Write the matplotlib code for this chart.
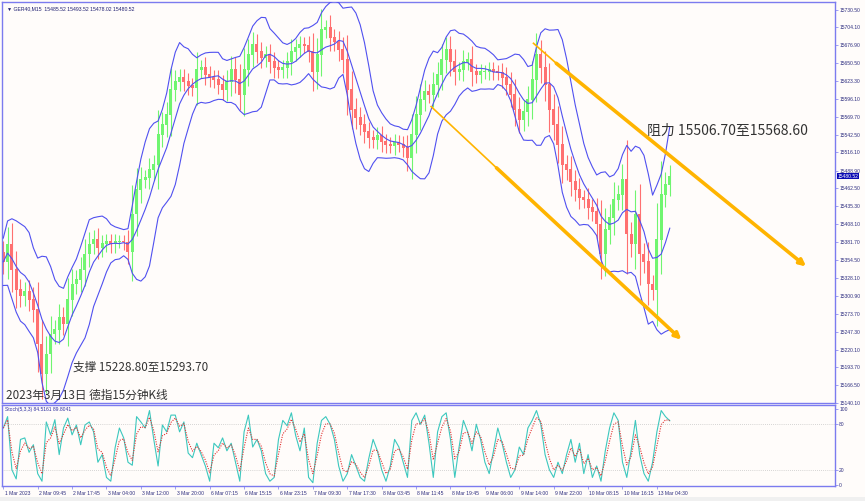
import numpy as np
import pandas as pd
import matplotlib
matplotlib.use('Agg')
import matplotlib.pyplot as plt

plt.rcParams['font.family'] = ['Noto Sans CJK SC', 'DejaVu Sans']

# hourly closes of GER40 (1 Mar - 13 Mar 2023)
closes = [15352, 15378, 15340, 15310, 15300, 15307, 15295, 15280, 15228, 15183,
          15213, 15243, 15250, 15268, 15258, 15295, 15318, 15325, 15340, 15363,
          15378, 15385, 15373, 15379, 15382, 15378, 15382, 15382, 15381, 15367,
          15423, 15460, 15475, 15478, 15490, 15498, 15543, 15558, 15573, 15610,
          15622, 15628, 15622, 15616, 15613, 15640, 15643, 15633, 15628, 15625,
          15618, 15610, 15622, 15640, 15625, 15603, 15640, 15663, 15678, 15667,
          15658, 15663, 15652, 15643, 15640, 15643, 15652, 15667, 15673, 15678,
          15676, 15667, 15637, 15663, 15700, 15703, 15688, 15682, 15670, 15655,
          15610, 15580, 15568, 15558, 15547, 15538, 15535, 15541, 15532, 15528,
          15526, 15531, 15528, 15523, 15508, 15543, 15573, 15595, 15607, 15603,
          15618, 15633, 15655, 15670, 15652, 15637, 15640, 15652, 15655, 15637,
          15633, 15637, 15637, 15640, 15637, 15636, 15628, 15618, 15603, 15580,
          15565, 15577, 15595, 15625, 15663, 15643, 15618, 15580, 15558, 15528,
          15498, 15490, 15472, 15460, 15448, 15445, 15433, 15427, 15408, 15363,
          15400, 15418, 15445, 15453, 15475, 15393, 15378, 15423, 15363, 15352,
          15318, 15310, 15385, 15453, 15468, 15480.52]
first_open = 15365

# stochastic %K main line, read at the same hourly steps
stoch_k = [75, 90, 20, 8, 60, 62, 43, 53, 15, 5,
           83, 66, 86, 40, 75, 88, 66, 79, 53, 79,
           83, 70, 30, 40, 10, 5, 49, 75, 62, 30,
           26, 90, 83, 75, 98, 60, 25, 79, 70, 92,
           92, 70, 83, 42, 36, 55, 40, 25, 5, 55,
           49, 62, 45, 55, 30, 5, 70, 92, 50, 60,
           45, 15, 5, 10, 60, 85, 78, 95, 65, 45,
           75, 10, 3, 55, 85, 90, 80, 60, 25, 5,
           15, 40, 25, 10, 5, 35, 60, 45, 20, 5,
           25, 60, 50, 30, 10, 85, 95, 80, 92, 55,
           10, 70, 90, 95, 60, 10, 50, 85, 70, 45,
           80, 60, 30, 15, 45, 75, 55, 30, 10, 20,
           50, 40, 75, 85, 98, 80, 40, 20, 10, 30,
           15, 40, 60, 30, 55, 15, 40, 10, 25, 5,
           45, 75, 95, 85, 30, 10, 45, 85, 40, 15,
           5, 30, 70, 98, 90, 84.5]

price_ticks = [15730.50, 15704.10, 15676.90, 15650.50, 15623.30, 15596.10, 15569.70,
               15542.50, 15516.10, 15488.90, 15462.50, 15435.30, 15408.10, 15381.70,
               15354.50, 15328.10, 15300.90, 15273.70, 15247.30, 15220.10, 15193.70,
               15166.50, 15140.10]
time_labels = ['1 Mar 2023', '2 Mar 09:45', '2 Mar 17:45', '3 Mar 04:00', '3 Mar 12:00',
               '3 Mar 20:00', '6 Mar 07:15', '6 Mar 15:15', '6 Mar 23:15', '7 Mar 09:30',
               '7 Mar 17:30', '8 Mar 03:45', '8 Mar 11:45', '8 Mar 19:45', '9 Mar 06:00',
               '9 Mar 14:00', '9 Mar 22:00', '10 Mar 08:15', '10 Mar 16:15', '13 Mar 04:30']
time_pos = [0, 8, 16, 24, 32, 40, 48, 56, 64, 72, 80, 88, 96, 104, 112, 120, 128, 136, 144, 152]

# trend lines (bar index, price)
upper_thin = [(123.3, 15680), (128.6, 15650)]
upper_arrow = [(128.6, 15650), (186.7, 15345)]
lower_thin = [(99.5, 15585), (114.7, 15493)]
lower_arrow = [(114.7, 15493), (157.7, 15235)]

closes = np.array(closes, dtype=float)
n = len(closes)
x = np.arange(n)
opens = np.concatenate(([first_open], closes[:-1]))
body = np.abs(closes - opens)
highs = np.maximum(opens, closes) + 10 + 0.6 * body
lows = np.minimum(opens, closes) - 10 - 0.6 * body

# bollinger bands, ~20 bars of M15, spread taken over o/h/l/c
ohlc = np.stack([opens, highs, lows, closes], axis=1)
mid = np.full(n, np.nan)
sd = np.full(n, np.nan)
for i in range(n):
    w = ohlc[max(0, i - 5):i + 1]
    mid[i] = w[:, 3].mean()
    sd[i] = w.std()
upper = mid + 2 * sd
lower = mid - 2 * sd

k = pd.Series(stoch_k, dtype=float)
d = k.ewm(alpha=0.6).mean()

W, H = 865, 501
fig = plt.figure(figsize=(8.65, 5.01), dpi=100, facecolor='#F0F0F0')
bg = '#FFFCFA'
frame = '#7B7BEF'
xl = (-0.3, -0.3 + 833 / 4.3)

ax = fig.add_axes([2 / W, 1 - 403 / H, 833 / W, 401 / H], facecolor=bg)
ax2 = fig.add_axes([2 / W, 1 - 486 / H, 833 / W, 81 / H], facecolor=bg)
fig.patches.append(plt.Rectangle((0, 1 - 497 / H), 1, 497 / H, transform=fig.transFigure,
                                 facecolor=bg, edgecolor='none', zorder=-1))

up = closes >= opens
colors = np.where(up, '#70F570', '#FF7070')
ax.vlines(x, lows, highs, colors=colors, linewidth=0.8, zorder=2)
ax.bar(x, body + 1, bottom=np.minimum(opens, closes), width=0.7,
       color=colors, linewidth=0, zorder=2)

for line in (upper, mid, lower):
    ax.plot(x, line, color='#5050F0', linewidth=0.8, zorder=3)

orange = '#FFB400'
for seg in (upper_thin, lower_thin):
    ax.plot([seg[0][0], seg[1][0]], [seg[0][1], seg[1][1]], color=orange, linewidth=1.2, zorder=4)
for seg in (upper_arrow, lower_arrow):
    ax.annotate('', xy=seg[1], xytext=seg[0],
                arrowprops=dict(arrowstyle='-|>', color=orange, lw=2.6, mutation_scale=9,
                                shrinkA=0, shrinkB=0), zorder=4)

ax.set_xlim(*xl)
ax.set_ylim(15140, 15742)
ax.yaxis.tick_right()
ax.set_yticks(price_ticks)
ax.set_yticklabels(['%.2f' % v for v in price_ticks], fontsize=3.6, color='#2E2E80',
                   family='Liberation Sans')
ax.tick_params(axis='y', length=2, width=0.5, color=frame, pad=1)
ax.set_xticks([])
for sp in ax.spines.values():
    sp.set_color(frame)
    sp.set_linewidth(1)

ax.text(0.006, 0.99, '\u25bc GER40,M15  15485.52 15493.52 15478.02 15480.52', transform=ax.transAxes,
        fontsize=3.7, color='#1E1E70', family='Liberation Sans', va='top', ha='left')
ax.text(1.003, 15480.52, '15480.52', transform=ax.get_yaxis_transform(), fontsize=3.6,
        color='white', family='Liberation Sans', va='center', ha='left', clip_on=False,
        bbox=dict(boxstyle='square,pad=0.15', facecolor='#0A0AB4', edgecolor='none'))

ax.text(149.6, 15549, '阻力 15506.70至15568.60', fontsize=10, color='#333333', va='center', ha='left')
ax.text(16.3, 15193, '支撑 15228.80至15293.70', fontsize=8.4, color='#333333', va='center', ha='left')
ax.text(0.6, 15151, '2023年3月13日 德指15分钟K线', fontsize=8.4, color='#333333', va='center', ha='left')

ax2.plot(x, k, color='#3CC8BE', linewidth=0.8)
ax2.plot(x, d, color='#E03030', linewidth=0.8, linestyle=(0, (1, 1.2)))
ax2.axhline(80, color='#B0B0B0', linewidth=0.5, linestyle=(0, (1, 2)))
ax2.axhline(20, color='#B0B0B0', linewidth=0.5, linestyle=(0, (1, 2)))
ax2.set_xlim(*xl)
ax2.set_ylim(-1.3, 105.3)
ax2.yaxis.tick_right()
ax2.set_yticks([100, 80, 20, 0])
ax2.set_yticklabels(['100', '80', '20', '0'], fontsize=3.6, color='#2E2E80', family='Liberation Sans')
ax2.tick_params(axis='y', length=2, width=0.5, color=frame, pad=1)
ax2.set_xticks(time_pos)
ax2.set_xticklabels([''] * len(time_pos))
ax2.tick_params(axis='x', length=2, width=0.5, color=frame, direction='out')
for p, lab in zip(time_pos, time_labels):
    ax2.text(p + 0.3, -0.09, lab, transform=ax2.get_xaxis_transform(), fontsize=3.6,
             color='#2E2E80', family='Liberation Sans', va='center', ha='left')
ax2.text(0.004, 0.97, 'Stoch(5,3,3) 84.5161 89.8041', transform=ax2.transAxes, fontsize=3.6,
         color='#3030A0', family='Liberation Sans', va='top', ha='left')
for sp in ax2.spines.values():
    sp.set_color(frame)
    sp.set_linewidth(1)

fig.savefig('out.png', dpi=100, facecolor=fig.get_facecolor())
